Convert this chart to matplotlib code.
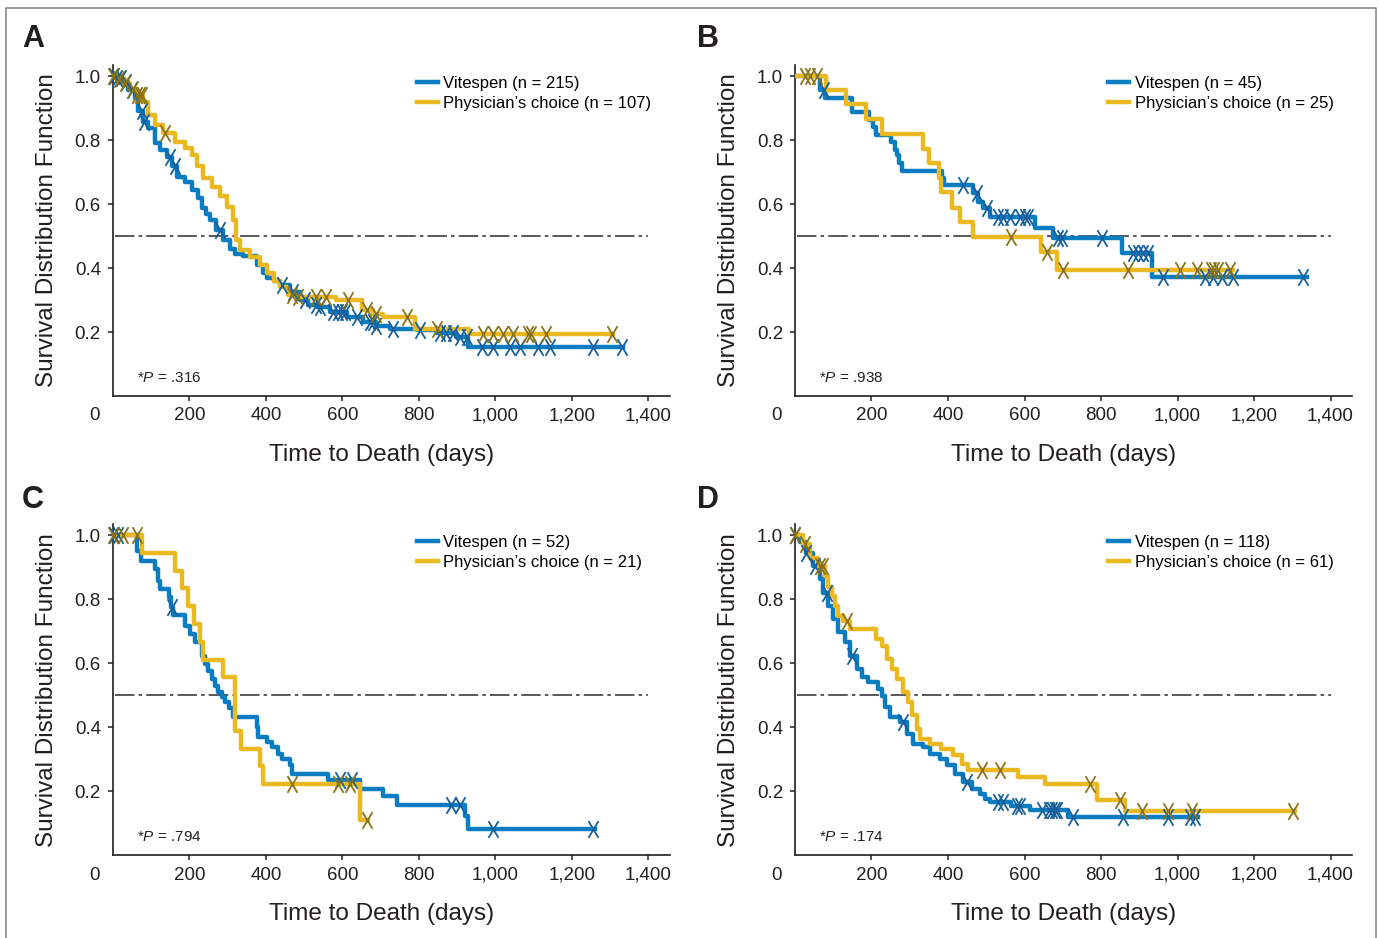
import numpy as np
import matplotlib
matplotlib.use("Agg")
import matplotlib.pyplot as plt
from matplotlib.path import Path
from matplotlib.lines import Line2D
from matplotlib import transforms

plt.rcParams["font.family"] = ["Liberation Sans", "DejaVu Sans"]
plt.rcParams["mathtext.fontset"] = "custom"
plt.rcParams["mathtext.it"] = "Liberation Sans:italic"
plt.rcParams["mathtext.rm"] = "Liberation Sans"
plt.rcParams["lines.scale_dashes"] = False

BLUE = "#0a7cc1"
GOLD = "#eab820"
BLUE_X = "#17609b"
GOLD_X = "#8a741a"
INK = "#231f20"

# ---- panel A ----
a_vit_t = [8, 23, 40, 57, 65, 78, 92, 110, 123, 141, 154, 167, 188, 206, 222, 232, 244, 254, 270, 288,
           306, 318, 340, 376, 392, 402, 420, 437, 463, 489, 510, 533, 567, 611, 655, 689, 724, 794,
           846, 898, 929]
a_vit_s = [0.995, 0.982, 0.955, 0.93, 0.89, 0.857, 0.838, 0.79, 0.77, 0.747, 0.72, 0.685, 0.669, 0.644,
           0.619, 0.588, 0.57, 0.55, 0.52, 0.4875, 0.458, 0.445, 0.4375, 0.409, 0.383, 0.37, 0.36,
           0.347, 0.326, 0.30, 0.285, 0.277, 0.264, 0.248, 0.232, 0.219, 0.211, 0.206, 0.196, 0.186,
           0.154]
a_vit_end = 1334
a_vit_cens = [2, 10, 20, 35, 50, 76, 82, 149, 162, 280, 441, 471, 502, 532, 541, 576, 589, 598, 607,
              637, 672, 681, 689, 733, 803, 855, 872, 890, 907, 925, 964, 994, 1038, 1064, 1112, 1142,
              1256, 1330]
a_phy_t = [12, 31, 45, 62, 78, 92, 110, 131, 162, 188, 206, 219, 235, 258, 280, 297, 314, 323, 332,
           359, 385, 402, 420, 437, 458, 475, 584, 650, 680, 706, 789, 930]
a_phy_s = [0.99, 0.978, 0.96, 0.94, 0.92, 0.878, 0.847, 0.822, 0.795, 0.775, 0.753, 0.72, 0.68, 0.654,
           0.625, 0.59, 0.55, 0.4875, 0.456, 0.435, 0.409, 0.383, 0.36, 0.342, 0.316, 0.31, 0.30,
           0.269, 0.256, 0.246, 0.211, 0.193]
a_phy_end = 1308
a_phy_cens = [0, 15, 31, 52, 63, 70, 75, 136, 467, 484, 532, 558, 615, 663, 689, 768, 846, 968, 994,
              1020, 1046, 1086, 1094, 1133, 1304]

# ---- panel B ----
b_vit_t = [65, 78, 150, 194, 203, 212, 250, 261, 266, 271, 279, 384, 389, 465, 479, 492, 510, 628,
           675, 854, 933]
b_vit_s = [0.956, 0.932, 0.889, 0.864, 0.842, 0.816, 0.795, 0.769, 0.753, 0.727, 0.703, 0.68, 0.659,
           0.634, 0.607, 0.586, 0.56, 0.524, 0.493, 0.446, 0.371]
b_vit_end = 1338
b_vit_cens = [75, 440, 475, 501, 532, 545, 562, 588, 601, 610, 688, 697, 802, 884, 897, 910, 923, 963,
              1072, 1093, 1115, 1146, 1329]
b_phy_t = [81, 133, 186, 227, 334, 351, 377, 381, 410, 431, 466, 642, 684]
b_phy_s = [0.956, 0.911, 0.866, 0.819, 0.772, 0.727, 0.68, 0.638, 0.586, 0.545, 0.498, 0.451, 0.394]
b_phy_end = 1146
b_phy_cens = [26, 39, 57, 566, 658, 700, 870, 1007, 1050, 1087, 1095, 1107, 1137]

# ---- panel C ----
c_vit_t = [62, 73, 110, 118, 123, 147, 153, 158, 188, 201, 214, 232, 240, 249, 258, 267, 275, 284, 293,
           303, 315, 376, 380, 404, 415, 432, 441, 463, 467, 563, 646, 707, 742, 920, 929]
c_vit_s = [0.952, 0.921, 0.894, 0.858, 0.832, 0.806, 0.775, 0.751, 0.718, 0.692, 0.666, 0.624, 0.598,
           0.577, 0.551, 0.530, 0.509, 0.494, 0.478, 0.459, 0.432, 0.400, 0.369, 0.354, 0.338, 0.317,
           0.302, 0.281, 0.255, 0.234, 0.208, 0.185, 0.158, 0.124, 0.081]
c_vit_end = 1260
c_vit_cens = [2, 14, 155, 593, 624, 885, 907, 994, 1256]
c_phy_t = [77, 162, 180, 197, 213, 228, 236, 289, 320, 336, 385, 391, 646]
c_phy_s = [0.946, 0.889, 0.835, 0.780, 0.723, 0.666, 0.610, 0.556, 0.389, 0.333, 0.278, 0.222, 0.111]
c_phy_end = 667
c_phy_cens = [0, 27, 62, 467, 589, 620, 663]

# ---- panel D ----
d_vit_t = [13, 30, 48, 65, 74, 87, 100, 113, 131, 144, 161, 174, 192, 218, 227, 235, 248, 274, 292,
           309, 335, 353, 379, 397, 418, 440, 462, 484, 497, 510, 566, 614, 714]
d_vit_s = [0.978, 0.946, 0.905, 0.863, 0.821, 0.780, 0.738, 0.697, 0.666, 0.624, 0.582, 0.556, 0.541,
           0.520, 0.499, 0.463, 0.432, 0.416, 0.380, 0.349, 0.338, 0.317, 0.302, 0.281, 0.255, 0.229,
           0.208, 0.192, 0.177, 0.166, 0.153, 0.14, 0.119]
d_vit_end = 1054
d_vit_cens = [0, 30, 52, 83, 148, 283, 449, 532, 545, 580, 588, 646, 663, 672, 681, 685, 728, 858,
              976, 1033, 1046]
d_phy_t = [22, 39, 61, 78, 87, 96, 105, 113, 126, 144, 212, 227, 240, 253, 266, 283, 296, 305, 318,
           327, 353, 383, 414, 436, 453, 584, 654, 789, 863]
d_phy_s = [0.972, 0.928, 0.905, 0.873, 0.837, 0.811, 0.780, 0.749, 0.733, 0.708, 0.676, 0.655, 0.614,
           0.582, 0.551, 0.509, 0.478, 0.437, 0.395, 0.364, 0.349, 0.333, 0.312, 0.286, 0.267, 0.244,
           0.222, 0.174, 0.138]
d_phy_end = 1307
d_phy_cens = [0, 26, 65, 74, 137, 490, 535, 771, 850, 906, 976, 1037, 1303]

panel_letters = ["A", "B", "C", "D"]
p_values = [".316", ".938", ".794", ".174"]
vit_n = [215, 45, 52, 118]
phy_n = [107, 25, 21, 61]

x_ticks = [0, 200, 400, 600, 800, 1000, 1200, 1400]
x_tick_labels = ["0", "200", "400", "600", "800", "1,000", "1,200", "1,400"]
y_ticks = [0.2, 0.4, 0.6, 0.8, 1.0]
y_tick_labels = ["0.2", "0.4", "0.6", "0.8", "1.0"]

cross = Path([(-0.6, -1), (0.6, 1), (-0.6, 1), (0.6, -1)],
             [Path.MOVETO, Path.LINETO, Path.MOVETO, Path.LINETO])


def surv_at(times, surv, t):
    idx = np.searchsorted(times, t, side="right")
    return np.r_[1.0, surv][idx]


def plot_curve(ax, times, surv, end, censor, color, xcolor, label):
    xs = np.r_[0, times, end]
    ys = np.r_[1.0, surv, surv[-1]]
    ax.step(xs, ys, where="post", color=color, lw=3.2, label=label, zorder=3)
    ax.plot(censor, surv_at(times, surv, censor), ls="none", marker=cross, ms=12,
            mew=1.3, mec=xcolor, mfc="none", zorder=4, clip_on=False)


def setup_axes(ax, legend_x, p_text):
    ax.set_xlim(0, 1455)
    ax.set_ylim(0, 1.035)
    for side in ["top", "right"]:
        ax.spines[side].set_visible(False)
    for side in ["left", "bottom"]:
        ax.spines[side].set_linewidth(1.2)
        ax.spines[side].set_color(INK)
    ax.set_xticks(x_ticks)
    ax.set_xticklabels(x_tick_labels)
    ax.set_yticks(y_ticks)
    ax.set_yticklabels(y_tick_labels)
    ax.tick_params(direction="out", length=3.6, width=1.1, color=INK, labelsize=13.5,
                   labelcolor=INK)
    ax.tick_params(axis="y", pad=5)
    ax.tick_params(axis="x", pad=4.5)
    # the origin label sits to the left of the axis corner
    zero = ax.xaxis.get_major_ticks()[0]
    zero.tick1line.set_visible(False)
    lab = zero.label1
    lab.set_transform(lab.get_transform() +
                      transforms.ScaledTranslation(-0.18, 0, ax.figure.dpi_scale_trans))

    ax.plot([5, 1400], [0.5, 0.5], color="#3c3c3c", lw=1.2, dashes=(14, 3, 2.5, 3), zorder=2)

    ax.set_ylabel("Survival Distribution Function", fontsize=17.5, color=INK, va="center")
    ax.yaxis.set_label_coords(-0.118, 0.5)
    ax.set_xlabel("Time to Death (days)", fontsize=17.5, color=INK, va="center")
    ax.xaxis.set_label_coords(0.483, -0.178)

    ax.legend(loc="upper left", bbox_to_anchor=(legend_x, 0.966), frameon=False,
              prop={"family": "Liberation Sans", "size": 12}, handlelength=1.25,
              handletextpad=0.35, labelspacing=0.28, borderpad=0, borderaxespad=0)
    ax.text(0.043, 0.055, "*$P$ = " + p_text, transform=ax.transAxes, fontsize=11,
            family="Liberation Sans", va="center", color=INK)


fig = plt.figure(figsize=(13.79, 9.38), dpi=100)

boxes = [[0.0819, 0.5778, 0.4036, 0.3531],
         [0.5765, 0.5778, 0.4036, 0.3531],
         [0.0819, 0.0882, 0.4036, 0.3531],
         [0.5765, 0.0882, 0.4036, 0.3531]]
legend_xs = [0.546, 0.563, 0.546, 0.563]
letter_pos = [(0.016, 0.95), (0.5054, 0.95), (0.016, 0.4584), (0.5054, 0.4584)]

curves = [
    (a_vit_t, a_vit_s, a_vit_end, a_vit_cens, a_phy_t, a_phy_s, a_phy_end, a_phy_cens),
    (b_vit_t, b_vit_s, b_vit_end, b_vit_cens, b_phy_t, b_phy_s, b_phy_end, b_phy_cens),
    (c_vit_t, c_vit_s, c_vit_end, c_vit_cens, c_phy_t, c_phy_s, c_phy_end, c_phy_cens),
    (d_vit_t, d_vit_s, d_vit_end, d_vit_cens, d_phy_t, d_phy_s, d_phy_end, d_phy_cens),
]

for i in range(4):
    ax = fig.add_axes(boxes[i])
    vt, vs, ve, vc, pt, ps, pe, pc = curves[i]
    plot_curve(ax, vt, vs, ve, vc, BLUE, BLUE_X, "Vitespen (n = %d)" % vit_n[i])
    plot_curve(ax, pt, ps, pe, pc, GOLD, GOLD_X, "Physician\u2019s choice (n = %d)" % phy_n[i])
    setup_axes(ax, legend_xs[i], p_values[i])
    fig.text(letter_pos[i][0], letter_pos[i][1], panel_letters[i], fontsize=22,
             fontweight="bold", family="Liberation Sans", color=INK, va="baseline")

# thin frame around the figure
fig.add_artist(Line2D([6 / 1379, 6 / 1379, 1376 / 1379, 1376 / 1379],
                      [0, 1 - 8 / 938, 1 - 8 / 938, 0],
                      transform=fig.transFigure, color="#8a8a8a", lw=1.2))

fig.savefig("out.png", dpi=100)
